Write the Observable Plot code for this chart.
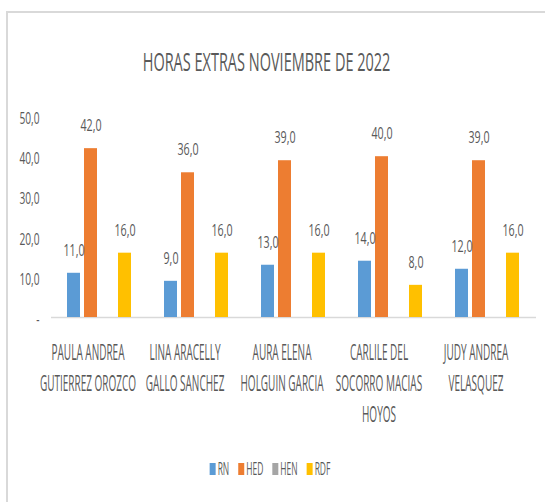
<!DOCTYPE html>
<html>
<head>
<meta charset="utf-8">
<script src="https://cdn.jsdelivr.net/npm/d3@7"></script>
<script src="https://cdn.jsdelivr.net/npm/@observablehq/plot@0.6"></script>
<style>
  html, body { margin: 0; padding: 0; background: #fff; overflow: hidden; }
  #wrap { position: relative; width: 545px; height: 502px; overflow: hidden; font-family: "Open Sans", sans-serif; }
  #frame { position: absolute; left: 6px; top: 11px; width: 600px; height: 600px;
           border-top: 2px solid #d9d9d9; border-left: 2px solid #d9d9d9; }
  #title { position: absolute; left: 0; top: 49px; width: 534px; text-align: center;
           font-size: 25px; line-height: 25px; color: #595959; white-space: nowrap; z-index: 2; }
  #title span { display: inline-block; transform: scaleX(0.58); transform-origin: center; }
  #chart { position: absolute; left: 0; top: 0; }
  #legend { position: absolute; left: 0; top: 457px; }
</style>
</head>
<body>
<div id="wrap">
  <div id="frame"></div>
  <div id="chart"></div>
  <div id="title"><span></span></div>
  <div id="legend"></div>
</div>
<script>
const title = "HORAS EXTRAS NOVIEMBRE DE 2022";
const names = [
  "PAULA ANDREA GUTIERREZ OROZCO",
  "LINA ARACELLY GALLO SANCHEZ",
  "AURA ELENA HOLGUIN GARCIA",
  "CARLILE DEL SOCORRO MACIAS HOYOS",
  "JUDY ANDREA VELASQUEZ"
];
const nameLabels = [
  "PAULA ANDREA\nGUTIERREZ OROZCO",
  "LINA ARACELLY\nGALLO SANCHEZ",
  "AURA ELENA\nHOLGUIN GARCIA",
  "CARLILE DEL\nSOCORRO MACIAS\nHOYOS",
  "JUDY ANDREA\nVELASQUEZ"
];
const series = ["RN", "HED", "HEN", "RDF"];
const rn  = [11, 9, 13, 14, 12];
const hed = [42, 36, 39, 40, 39];
const hen = [0, 0, 0, 0, 0];
const rdf = [16, 16, 16, 8, 16];
const colors = ["#5B9BD5", "#ED7D31", "#A5A5A5", "#FFC000"];
const yTicks = [0, 10, 20, 30, 40, 50];
const yTickLabels = ["-", "10,0", "20,0", "30,0", "40,0", "50,0"];

const valuesBySeries = {RN: rn, HED: hed, HEN: hen, RDF: rdf};
const data = [];
names.forEach((n, i) => series.forEach(s => data.push({name: n, series: s, value: valuesBySeries[s][i]})));
const fmt = v => v.toFixed(1).replace(".", ",");
const textColor = "#595959";

document.querySelector("#title span").textContent = title;

const chart = Plot.plot({
  width: 545,
  height: 440,
  marginTop: 116,
  marginBottom: 123,
  marginLeft: 49,
  marginRight: 8,
  style: {fontFamily: "Open Sans, sans-serif", color: textColor, background: "transparent"},
  fx: {domain: names, padding: 0},
  x: {domain: series, paddingInner: 0.21, paddingOuter: 0.86, axis: null},
  y: {domain: [0, 50]},
  color: {domain: series, range: colors},
  marks: [
    Plot.ruleY([0], {stroke: "#d9d9d9", strokeWidth: 1.5}),
    Plot.barY(data, {fx: "name", x: "series", y: "value", fill: "series"}),
    Plot.text(data.filter(d => d.value > 0), {
      fx: "name", x: "series", y: "value", text: d => fmt(d.value),
      dy: -23, fontSize: 17, fill: textColor
    }),
    Plot.axisY(yTicks, {
      anchor: "left", tickSize: 0, tickPadding: 12, fontSize: 17, color: textColor, dy: 2,
      tickFormat: d => yTickLabels[yTicks.indexOf(d)], label: null
    }),
    Plot.axisFx({
      anchor: "bottom", tickSize: 0, tickPadding: 20, fontSize: 22, color: textColor,
      lineHeight: 1.41, dx: -12, label: null,
      tickFormat: d => nameLabels[names.indexOf(d)]
    })
  ]
});
document.getElementById("chart").appendChild(chart);

function squash(nodes, k) {
  nodes.forEach(el => {
    const t = el.getAttribute("transform") || "";
    const x = +(el.getAttribute("x") || 0);
    el.setAttribute("transform", `${t} translate(${x},0) scale(${k},1) translate(${-x},0)`);
  });
}
squash(chart.querySelectorAll('g[aria-label="fx-axis tick label"] text'), 0.455);
squash(chart.querySelectorAll('g[aria-label="y-axis tick label"] text'), 0.6);
squash(chart.querySelectorAll('g[aria-label="text"] text'), 0.63);

// Legend
const legK = 0.47, legFont = 18, sqW = 6, sqH = 12, gapSq = 2, gapItem = 9, legCenter = 270;
const lsvg = d3.select("#legend").append("svg").attr("width", 545).attr("height", 24)
  .style("font-family", "Open Sans, sans-serif");
const items = series.map((s, i) => {
  const g = lsvg.append("g");
  g.append("rect").attr("width", sqW).attr("height", sqH).attr("y", 6).attr("fill", colors[i]);
  const t = g.append("text").text(s).attr("font-size", legFont).attr("fill", textColor)
    .attr("y", 12).attr("dy", "0.36em");
  const w = t.node().getComputedTextLength() * legK;
  t.attr("transform", `translate(${sqW + gapSq},0) scale(${legK},1)`);
  return {g, w: sqW + gapSq + w};
});
const total = d3.sum(items, d => d.w) + gapItem * (items.length - 1);
let cx = legCenter - total / 2;
items.forEach(it => { it.g.attr("transform", `translate(${cx},0)`); cx += it.w + gapItem; });
</script>
</body>
</html>
